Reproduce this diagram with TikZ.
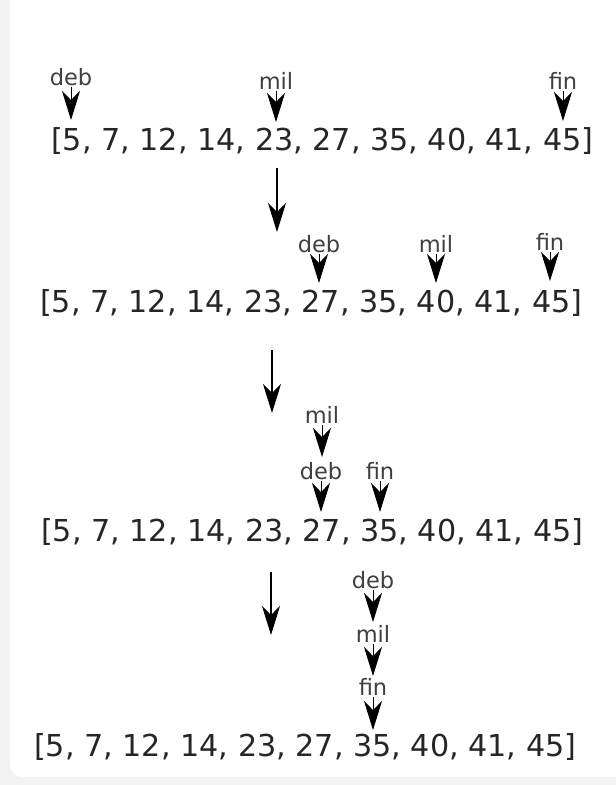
\documentclass[tikz,border=0pt]{standalone}
\usepackage{fontspec}
\setmainfont{DejaVu Sans}
\usetikzlibrary{arrows.meta}
\definecolor{arraytext}{HTML}{262626}
\definecolor{labeltext}{HTML}{404040}
\definecolor{pagegray}{HTML}{F3F3F3}
\tikzset{
  arrayrow/.style={anchor=base west, inner sep=0pt, text=arraytext,
    font=\fontsize{30.2}{32}\selectfont},
  ptrlabel/.style={anchor=base, inner sep=0pt, text=labeltext,
    font=\fontsize{22.5}{24}\selectfont},
  ptrarrow/.style={-{Stealth[length=29pt, width=18pt, inset=9pt]},
    line width=1pt, black},
  steparrow/.style={-{Stealth[length=29pt, width=18pt, inset=9pt]},
    line width=1.3pt, black},
}
\begin{document}
\begin{tikzpicture}[x=1pt, y=-1pt]
  \useasboundingbox (0,0) rectangle (616,785);
  % page and card
  \begin{scope}
    \clip (0,0) rectangle (616,785);
    \fill[pagegray] (0,0) rectangle (616,785);
    \fill[white, rounded corners=12pt] (10,-20) rectangle (640,777);
  \end{scope}

  % ---- step 1: deb = 0, fin = 9, mil = 4
  \node[arrayrow] (r1) at (51,150) {[5, 7, 12, 14, 23, 27, 35, 40, 41, 45]};
  \node[ptrlabel] (d1) at (71,85) {deb};
  \node[ptrlabel] (m1) at (276,89) {mil};
  \node[ptrlabel] (f1) at (563,89) {fin};
  \coordinate (d1t) at (71,120);
  \coordinate (m1t) at (276,122);
  \coordinate (f1t) at (563,121);
  \draw[ptrarrow] ([yshift=-2pt]d1.base) -- (d1t);
  \draw[ptrarrow] ([yshift=-2pt]m1.base) -- (m1t);
  \draw[ptrarrow] ([yshift=-2pt]f1.base) -- (f1t);

  \coordinate (s1a) at (277,168);
  \coordinate (s1b) at (277,232);
  \draw[steparrow] (s1a) -- (s1b);

  % ---- step 2: deb = 5, fin = 9, mil = 7
  \node[arrayrow] (r2) at (40,312) {[5, 7, 12, 14, 23, 27, 35, 40, 41, 45]};
  \node[ptrlabel] (d2) at (319,252) {deb};
  \node[ptrlabel] (m2) at (436,252) {mil};
  \node[ptrlabel] (f2) at (550,250) {fin};
  \coordinate (d2t) at (319,283);
  \coordinate (m2t) at (436,283);
  \coordinate (f2t) at (550,281);
  \draw[ptrarrow] ([yshift=-2pt]d2.base) -- (d2t);
  \draw[ptrarrow] ([yshift=-2pt]m2.base) -- (m2t);
  \draw[ptrarrow] ([yshift=-2pt]f2.base) -- (f2t);

  \coordinate (s2a) at (272,350);
  \coordinate (s2b) at (272,413);
  \draw[steparrow] (s2a) -- (s2b);

  % ---- step 3: deb = 5, fin = 6, mil = 5
  \node[arrayrow] (r3) at (41,541) {[5, 7, 12, 14, 23, 27, 35, 40, 41, 45]};
  \node[ptrlabel] (m3) at (322,423) {mil};
  \node[ptrlabel] (d3) at (321,479) {deb};
  \node[ptrlabel] (f3) at (380,479) {fin};
  \coordinate (m3t) at (322,457);
  \coordinate (d3t) at (321,512);
  \coordinate (f3t) at (380,512);
  \draw[ptrarrow] ([yshift=-2pt]m3.base) -- (m3t);
  \draw[ptrarrow] ([yshift=-2pt]d3.base) -- (d3t);
  \draw[ptrarrow] ([yshift=-2pt]f3.base) -- (f3t);

  \coordinate (s3a) at (271,572);
  \coordinate (s3b) at (271,635);
  \draw[steparrow] (s3a) -- (s3b);

  % ---- step 4: deb = mil = fin = 6
  \node[arrayrow] (r4) at (34,756) {[5, 7, 12, 14, 23, 27, 35, 40, 41, 45]};
  \node[ptrlabel] (d4) at (373,588) {deb};
  \node[ptrlabel] (m4) at (373,642) {mil};
  \node[ptrlabel] (f4) at (373,695) {fin};
  \coordinate (d4t) at (373,622);
  \coordinate (m4t) at (373,676);
  \coordinate (f4t) at (373,730);
  \draw[ptrarrow] ([yshift=-2pt]d4.base) -- (d4t);
  \draw[ptrarrow] ([yshift=-2pt]m4.base) -- (m4t);
  \draw[ptrarrow] ([yshift=-2pt]f4.base) -- (f4t);
\end{tikzpicture}
\end{document}
